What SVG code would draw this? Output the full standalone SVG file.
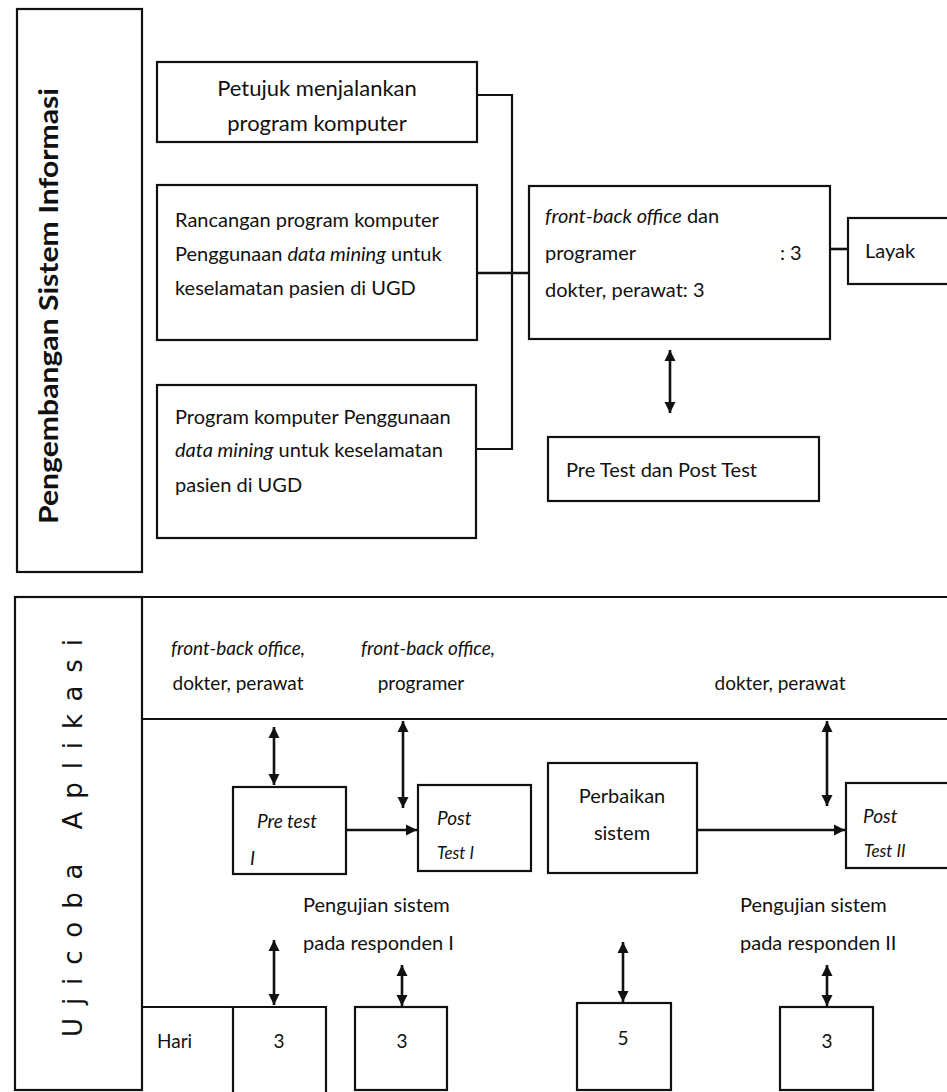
<svg xmlns="http://www.w3.org/2000/svg" width="947" height="1092" viewBox="0 0 947 1092">
<style>
  .box{fill:#fff;stroke:#111;stroke-width:2.2}
  .ln{fill:none;stroke:#111;stroke-width:2.2}
  .con{fill:none;stroke:#111;stroke-width:2.6}
  .t{font-family:Lato,"Open Sans","Liberation Sans",sans-serif;fill:#111;font-size:20px}
  .i{font-style:italic}
  .m{text-anchor:middle}
</style>
<defs>
  <marker id="ah" viewBox="0 0 10 10" refX="10" refY="5" markerWidth="11" markerHeight="12" markerUnits="userSpaceOnUse" orient="auto-start-reverse">
    <path d="M0,0 L10,5 L0,10 z" fill="#111"/>
  </marker>
</defs>
<rect width="947" height="1092" fill="#fff"/>

<g id="pengembangan">
  <rect class="box" x="17" y="9" width="125" height="563"/>
  <text class="t" transform="translate(58,524) rotate(-90)" textLength="436" lengthAdjust="spacingAndGlyphs" style="font-weight:bold;font-size:27px">Pengembangan Sistem Informasi</text>
</g>
<g id="petujuk">
  <rect class="box" x="157" y="62" width="320" height="80"/>
  <text class="t m" x="317" y="96" style="font-size:22px">Petujuk menjalankan</text>
  <text class="t m" x="317" y="131" style="font-size:22px">program komputer</text>
</g>
<g id="rancangan">
  <rect class="box" x="157" y="185" width="320" height="155"/>
  <text class="t" x="175" y="227">Rancangan program komputer</text>
  <text class="t" x="175" y="261">Penggunaan <tspan class="i">data mining</tspan> untuk</text>
  <text class="t" x="175" y="295">keselamatan pasien di UGD</text>
</g>
<g id="program">
  <rect class="box" x="157" y="385" width="319" height="153"/>
  <text class="t" x="175" y="424">Program komputer Penggunaan</text>
  <text class="t" x="175" y="457"><tspan class="i">data mining</tspan> untuk keselamatan</text>
  <text class="t" x="175" y="492">pasien di UGD</text>
</g>
<g id="frontback">
  <rect class="box" x="529" y="186" width="301" height="153"/>
  <text class="t" x="545" y="223"><tspan class="i">front-back office</tspan> dan</text>
  <text class="t" x="545" y="260">programer</text>
  <text class="t" x="780" y="260">: 3</text>
  <text class="t" x="545" y="297">dokter, perawat: 3</text>
</g>
<g id="layak">
  <rect class="box" x="848" y="218" width="110" height="66"/>
  <text class="t" x="865" y="258">Layak</text>
</g>
<g id="prepost">
  <rect class="box" x="548" y="437" width="271" height="64"/>
  <text class="t" x="566" y="477">Pre Test dan Post Test</text>
</g>

<g id="ujicoba">
  <rect class="box" x="15" y="597" width="127" height="493"/>
  <text class="t" transform="translate(82,1037) rotate(-90)" textLength="398" lengthAdjust="spacing" style="font-family:'DejaVu Sans',sans-serif;font-size:26px">Ujicoba Aplikasi</text>
</g>
<g id="band">
  <line class="ln" x1="142" y1="597" x2="947" y2="597"/>
  <line class="ln" x1="142" y1="719" x2="947" y2="719"/>
  <text class="t i m" x="238" y="655" style="font-size:19px">front-back office,</text>
  <text class="t m" x="238" y="690" style="font-size:19px">dokter, perawat</text>
  <text class="t i m" x="428" y="655" style="font-size:19px">front-back office,</text>
  <text class="t m" x="421" y="690" style="font-size:19px">programer</text>
  <text class="t m" x="780" y="690" style="font-size:19px">dokter, perawat</text>
</g>
<g id="pretest1">
  <rect class="box" x="233" y="787" width="113" height="87"/>
  <text class="t i" x="257" y="828" style="font-size:19px">Pre test</text>
  <text class="t i" x="250" y="865" style="font-size:19px">I</text>
</g>
<g id="posttest1">
  <rect class="box" x="418" y="785" width="113" height="86"/>
  <text class="t i" x="437" y="825" style="font-size:19px">Post</text>
  <text class="t i" x="437" y="859" style="font-size:17px">Test I</text>
</g>
<g id="perbaikan">
  <rect class="box" x="548" y="763" width="149" height="110"/>
  <text class="t m" x="622" y="803">Perbaikan</text>
  <text class="t m" x="622" y="840">sistem</text>
</g>
<g id="posttest2">
  <rect class="box" x="846" y="783" width="112" height="85"/>
  <text class="t i" x="863" y="823" style="font-size:19px">Post</text>
  <text class="t i" x="864" y="857" style="font-size:17px">Test II</text>
</g>
<g id="labels">
  <text class="t" x="303" y="912">Pengujian sistem</text>
  <text class="t" x="303" y="950">pada responden I</text>
  <text class="t" x="740" y="912">Pengujian sistem</text>
  <text class="t" x="740" y="950">pada responden II</text>
</g>
<g id="hari">
  <polyline class="ln" points="142,1007 326,1007 326,1092"/>
  <line class="ln" x1="233" y1="1007" x2="233" y2="1092"/>
  <text class="t" x="157" y="1048" style="font-size:19px">Hari</text>
  <text class="t m" x="279" y="1048" style="font-size:19px">3</text>
</g>
<g id="day2">
  <rect class="box" x="355" y="1007" width="92" height="83"/>
  <text class="t m" x="402" y="1048" style="font-size:19px">3</text>
</g>
<g id="day3">
  <rect class="box" x="577" y="1003" width="94" height="87"/>
  <text class="t m" x="623" y="1045" style="font-size:19px">5</text>
</g>
<g id="day4">
  <rect class="box" x="780" y="1007" width="93" height="83"/>
  <text class="t m" x="827" y="1048" style="font-size:19px">3</text>
</g>

<g id="connectors">
  <polyline class="ln" points="477,95 512,95 512,449 476,449"/>
  <line class="con" x1="477" y1="273" x2="529" y2="273"/>
  <line class="con" x1="830" y1="249" x2="848" y2="249"/>
  <line class="con" x1="670" y1="350" x2="670" y2="413" marker-start="url(#ah)" marker-end="url(#ah)"/>
  <line class="con" x1="274" y1="727" x2="274" y2="785" marker-start="url(#ah)" marker-end="url(#ah)"/>
  <line class="con" x1="403" y1="721" x2="403" y2="808" marker-start="url(#ah)" marker-end="url(#ah)"/>
  <line class="con" x1="827" y1="721" x2="827" y2="806" marker-start="url(#ah)" marker-end="url(#ah)"/>
  <line class="con" x1="346" y1="830" x2="417" y2="830" marker-end="url(#ah)"/>
  <line class="con" x1="697" y1="830" x2="845" y2="830" marker-end="url(#ah)"/>
  <line class="con" x1="274" y1="940" x2="274" y2="1005" marker-start="url(#ah)" marker-end="url(#ah)"/>
  <line class="con" x1="402" y1="965" x2="402" y2="1006" marker-start="url(#ah)" marker-end="url(#ah)"/>
  <line class="con" x1="623" y1="942" x2="623" y2="1002" marker-start="url(#ah)" marker-end="url(#ah)"/>
  <line class="con" x1="827" y1="965" x2="827" y2="1006" marker-start="url(#ah)" marker-end="url(#ah)"/>
</g>
</svg>
